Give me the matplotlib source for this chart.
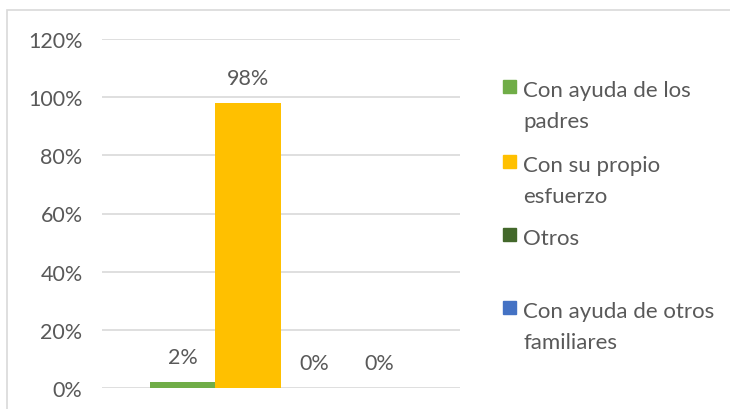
import matplotlib
matplotlib.use("Agg")
import matplotlib.pyplot as plt
from matplotlib.patches import Rectangle
from matplotlib.ticker import FuncFormatter

# data
series = ["Con ayuda de los\npadres", "Con su propio\nesfuerzo", "Otros",
          "Con ayuda de otros\nfamiliares"]
values = [0.02, 0.98, 0.00, 0.00]
colors = ["#70AD47", "#FFC000", "#43682B", "#4472C4"]
yticks = [0, 0.2, 0.4, 0.6, 0.8, 1.0, 1.2]

text_color = "#595959"
grid_color = "#D9D9D9"
plt.rcParams["font.family"] = ["Lato", "DejaVu Sans"]

fig = plt.figure(figsize=(7.3, 4.1), dpi=100)
ax = fig.add_axes([102 / 730, 1 - 389 / 410, 358 / 730, 349 / 410])

# outer chart border
fig.patches.append(Rectangle((7 / 730, -0.1), 1.1, 1 - 11 / 410 + 0.1,
                             transform=fig.transFigure, fill=False,
                             edgecolor=grid_color, linewidth=1.2))

width = 0.183
n = len(values)
for i, (v, c) in enumerate(zip(values, colors)):
    x = (i - (n - 1) / 2) * width
    ax.bar(x, v, width=width, color=c, zorder=3)
    ax.annotate(f"{v * 100:.0f}%", (x, v), xytext=(0, 11),
                textcoords="offset points", ha="center", va="bottom",
                fontsize=15.5, color=text_color)

ax.set_xlim(-0.5, 0.5)
ax.set_ylim(0, 1.2)
ax.set_yticks(yticks)
ax.yaxis.set_major_formatter(FuncFormatter(lambda v, p: f"{v * 100:.0f}%"))
ax.set_xticks([])
ax.tick_params(axis="y", length=0, pad=14, labelsize=15.5, labelcolor=text_color)
ax.grid(axis="y", color=grid_color, linewidth=1.2, zorder=0)
for s in ax.spines.values():
    s.set_visible(False)

# legend, placed like the original (baseline of first line, px from top)
legend_base = [97, 172, 245, 318]
line_px = 31
for label, c, y in zip(series, colors, legend_base):
    fig.patches.append(Rectangle((503 / 730, 1 - (y - 3) / 410), 13 / 730, 13 / 410,
                                 transform=fig.transFigure, color=c))
    # va="baseline" refers to the last line of a multi-line label
    last = y + label.count("\n") * line_px
    fig.text(523 / 730, 1 - last / 410, label, ha="left", va="baseline",
             fontsize=16, color=text_color, linespacing=1.7)

fig.savefig("out.png", dpi=100)
